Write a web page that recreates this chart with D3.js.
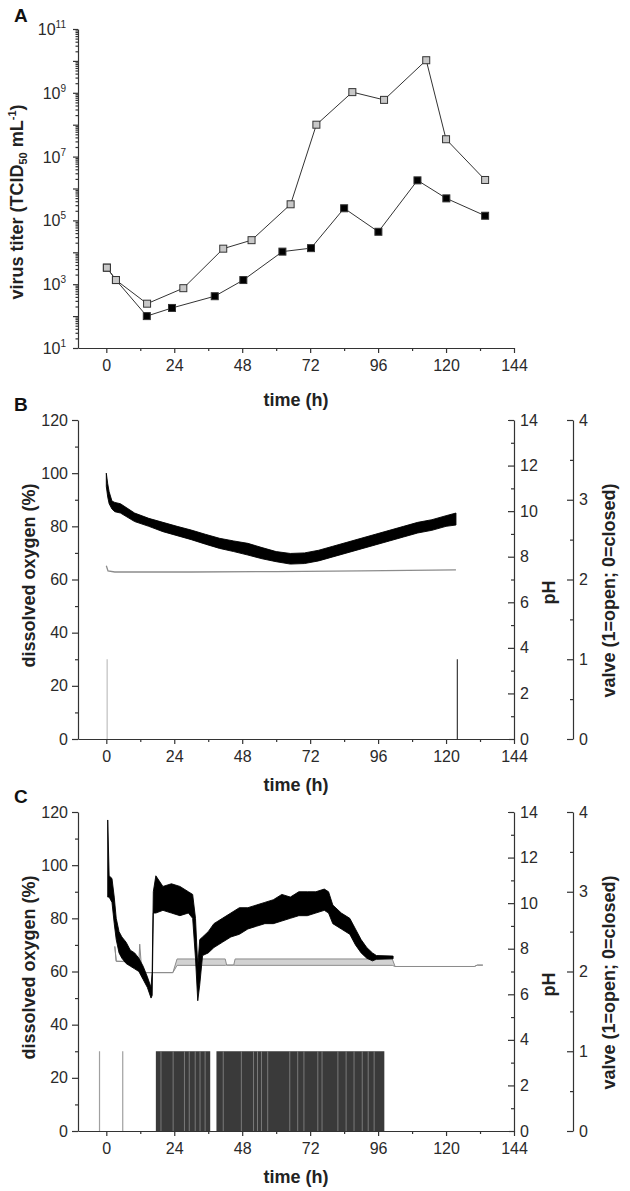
<!DOCTYPE html>
<html>
<head>
<meta charset="utf-8">
<script src="https://cdn.jsdelivr.net/npm/d3@7"></script>
<style>
  body { margin: 0; background: #fff; }
  svg { display: block; font-family: "Liberation Sans", Arial, sans-serif; }
  .axis path, .axis line { stroke: #333; stroke-width: 1.2; }
  .axis text { font-family: "Liberation Sans", Arial, sans-serif; font-size: 16px; fill: #2a2a2a; }
  .title { font-size: 18px; font-weight: bold; fill: #222; }
  .panel { font-size: 19px; font-weight: bold; fill: #111; }
</style>
</head>
<body>
<svg id="chart" width="630" height="1191"></svg>
<script>
// ---- data ----
var timeTicks = [0, 24, 48, 72, 96, 120, 144]
var timeMinorTicks = [12, 36, 60, 84, 108, 132]
var titerLabelExps = [1, 3, 5, 7, 9, 11]
var doTicks = [0, 20, 40, 60, 80, 100, 120]
var doMinorTicks = [10, 30, 50, 70, 90, 110]
var phTicks = [0, 2, 4, 6, 8, 10, 12, 14]
var phMinorTicks = [1, 3, 5, 7, 9, 11, 13]
var valveTicks = [0, 1, 2, 3, 4]
var valveMinorTicks = [0.5, 1.5, 2.5, 3.5]

// A: virus titer (TCID50/mL)
var timeGray = [0.2, 3.4, 14.4, 27.2, 41.3, 51.3, 65.1, 74.2, 86.9, 98.1, 113, 120, 133.8]
var titerGray = [3300, 1350, 245, 750, 13000, 24000, 3.2e5, 1.0e8, 1.05e9, 6.0e8, 1.05e10, 3.5e7, 1.85e6]
var timeBlack = [0.2, 3.4, 14.3, 23.2, 38.3, 48.4, 62.2, 72.3, 84, 96.1, 109.9, 120.1, 133.8]
var titerBlack = [3300, 1350, 100, 180, 420, 1350, 10500, 13500, 2.4e5, 44000, 1.8e6, 4.9e5, 1.4e5]

// B: dissolved oxygen envelope (low/high of noisy trace), pH, valve events
var doTimeB = [0, 0.5, 1, 2, 3, 5, 10, 15, 20, 25, 30, 35, 40, 45, 50, 55, 60, 65, 70, 75, 80, 85, 90, 95, 100, 105, 110, 115, 120, 123.5]
var doLowB = [95, 91, 88.5, 86.5, 85.5, 85, 81.8, 80, 78, 76.5, 75, 73.3, 71.7, 70.5, 69.2, 67.8, 66.7, 65.8, 66, 67, 68.5, 70, 71.5, 73, 74.5, 76, 77.5, 78.5, 80, 80.5]
var doHighB = [100, 96, 93, 89.5, 89, 88.5, 85, 83, 81.5, 80, 78.6, 77, 75.5, 74.5, 73.6, 72, 70.5, 69.8, 70, 71, 72.5, 74, 75.5, 77, 78.5, 80, 81.5, 82.5, 84, 85]
var phTimeB = [0, 0.6, 3, 30, 60, 90, 123.5]
var phB = [7.6, 7.38, 7.33, 7.33, 7.35, 7.38, 7.42]
var valveTimeB = [0.3, 124]

// C: dissolved oxygen envelope, pH envelope, valve openings
var doTimeC = [0.5, 1, 2, 2.8, 3.5, 4.5, 5.5, 7, 8.5, 10, 11.5, 13, 14.5, 15.8, 16.2, 16.6, 17.5, 20, 23, 26, 29, 30.5, 31.5, 32.3, 33, 34, 36, 38, 41, 44, 47, 50, 53, 56, 59, 62, 65, 68, 71, 74, 77, 78.5, 80, 83, 86, 88, 90, 92, 94, 95.4, 101.3]
var doLowC = [88, 88, 86, 78, 72, 67, 65, 63, 62, 61, 60, 57, 54, 50, 51, 82, 82, 83, 82, 81, 82, 80, 65, 49, 55, 66, 67, 69, 71, 73, 74, 76, 77, 78, 78, 79, 80, 81, 81, 82, 83, 82, 78, 76, 74, 70, 67, 65, 64, 64.6, 64.8]
var doHighC = [117, 96, 95, 88, 80, 75, 73, 71, 68, 67, 65, 62, 58, 54, 60, 90, 96, 92, 93, 92, 90, 89, 80, 62, 72, 73, 75, 78, 80, 82, 84, 84, 85, 86, 87, 89, 88, 90, 90, 90, 91, 90, 85, 82, 80, 76, 72, 69, 67, 66, 65.8]
var phTimeC = [3, 3.5, 11.5, 11.8, 12.3, 13, 23.5, 25, 42, 42.5, 45, 45.5, 101, 102, 130, 131, 133]
var phLowC = [8.1, 7.45, 7.4, 7.4, 7.2, 6.95, 6.95, 7.27, 7.27, 7.28, 7.28, 7.27, 7.27, 7.22, 7.22, 7.28, 7.28]
var phHighC = [8.1, 7.45, 7.45, 8.2, 7.4, 6.95, 6.95, 7.55, 7.55, 7.28, 7.28, 7.55, 7.55, 7.22, 7.22, 7.28, 7.28]
var valveLinesC = [-2.4, 5.8]
var valveOpenStartC = [17.5, 38.9]
var valveOpenEndC = [36.7, 98.2]
var valveGapsC = [19.3, 23.6, 27.6, 29.3, 31.4, 33.1, 34.9, 41.3, 47.7, 52, 53.4, 54.8, 57, 64.8, 67.6, 69.8, 74.7, 76.2, 81.8, 84.7, 87.5, 90.4, 92.5, 94.6]

// ---- drawing ----
var svg = d3.select('#chart')
var x = d3.scaleLinear().domain([-10, 144]).range([78, 514])
var zip3 = function(t, a, b) { return t.map(function(v, i) { return [v, a[i], b[i]] }) }

function drawTimeAxis(y0, titleY) {
  svg.append('g').attr('class', 'axis').attr('transform', 'translate(0,' + y0 + ')')
    .call(d3.axisBottom(x).tickValues(timeTicks).tickSize(5).tickSizeOuter(0).tickPadding(7))
  svg.append('g').attr('class', 'axis').attr('transform', 'translate(0,' + y0 + ')')
    .call(d3.axisBottom(x).tickValues(timeMinorTicks).tickSize(3).tickFormat(''))
    .select('.domain').remove()
  svg.append('text').attr('class', 'title')
    .attr('x', 296).attr('y', titleY).attr('text-anchor', 'middle')
    .text('time (h)')
}

function drawSideAxis(scale, xPos, major, minor, right) {
  var mk = right ? d3.axisRight : d3.axisLeft
  var k = right ? -1 : 1
  svg.append('g').attr('class', 'axis').attr('transform', 'translate(' + xPos + ',0)')
    .call(mk(scale).tickValues(major).tickSize(6 * k).tickSizeOuter(0)
      .tickPadding(right ? 6 : 4).tickFormat(d3.format('d')))
  svg.append('g').attr('class', 'axis').attr('transform', 'translate(' + xPos + ',0)')
    .call(mk(scale).tickValues(minor).tickSize(3 * k).tickFormat(''))
    .select('.domain').remove()
}

function rotTitle(txt, tx, ty) {
  return svg.append('text').attr('class', 'title')
    .attr('transform', 'translate(' + tx + ',' + ty + ') rotate(-90)')
    .attr('text-anchor', 'middle')
    .text(txt)
}

// ===== Panel A =====
var yA = d3.scaleLog().domain([10, 1e11]).range([348, 29])
var decades = d3.range(1, 12).map(function(e) { return Math.pow(10, e) })
var minorLog = []
decades.slice(0, -1).forEach(function(d) { for (var m = 2; m <= 9; m++) minorLog.push(d * m) })

svg.append('g').attr('class', 'axis').attr('transform', 'translate(78,0)')
  .call(d3.axisLeft(yA).tickValues(decades).tickSize(5).tickSizeOuter(0).tickFormat(''))
svg.append('g').attr('class', 'axis').attr('transform', 'translate(78,0)')
  .call(d3.axisLeft(yA).tickValues(minorLog).tickSize(2.5).tickFormat(''))
  .select('.domain').remove()

titerLabelExps.forEach(function(e) {
  var t = svg.append('text')
    .attr('x', 66).attr('y', yA(Math.pow(10, e)) + 6)
    .attr('text-anchor', 'end')
    .style('font-size', '16px').style('fill', '#2a2a2a')
  t.append('tspan').text('10')
  t.append('tspan').attr('dy', -7).style('font-size', '10px').text(e)
})

drawTimeAxis(348, 406)

var lineA = d3.line().x(function(d) { return x(d[0]) }).y(function(d) { return yA(d[1]) })
var blackPts = timeBlack.map(function(t, i) { return [t, titerBlack[i]] })
var grayPts = timeGray.map(function(t, i) { return [t, titerGray[i]] })

;[[blackPts, '#000'], [grayPts, '#c8c8c8']].forEach(function(s) {
  var g = svg.append('g')
  g.append('path').attr('d', lineA(s[0])).attr('fill', 'none').attr('stroke', '#333').attr('stroke-width', 1)
  g.selectAll('rect').data(s[0]).enter().append('rect')
    .attr('x', function(d) { return x(d[0]) - 3.5 })
    .attr('y', function(d) { return yA(d[1]) - 3.5 })
    .attr('width', 7).attr('height', 7)
    .attr('fill', s[1]).attr('stroke', '#333').attr('stroke-width', 1)
})

var tA = svg.append('text').attr('class', 'title')
  .attr('transform', 'translate(23,202) rotate(-90)').attr('text-anchor', 'middle')
tA.append('tspan').text('virus titer (TCID')
tA.append('tspan').attr('dy', 4).style('font-size', '11px').text('50')
tA.append('tspan').attr('dy', -4).text(' mL')
tA.append('tspan').attr('dy', -7).style('font-size', '11px').text('-1')
tA.append('tspan').attr('dy', 7).text(')')

svg.append('text').attr('class', 'panel').attr('x', 14).attr('y', 22).text('A')

// ===== Panels B and C =====
function drawProcessPanel(top, bottom, label, doData, phDraw, valveDraw) {
  var yDo = d3.scaleLinear().domain([0, 120]).range([bottom, top])
  var yPh = d3.scaleLinear().domain([0, 14]).range([bottom, top])
  var yV = d3.scaleLinear().domain([0, 4]).range([bottom, top])

  valveDraw(yV)
  phDraw(yPh)

  svg.append('path')
    .attr('d', d3.area().x(function(d) { return x(d[0]) })
      .y0(function(d) { return yDo(d[1]) }).y1(function(d) { return yDo(d[2]) })(doData))
    .attr('fill', '#000').attr('stroke', '#000').attr('stroke-width', 0.9)

  drawSideAxis(yDo, 78, doTicks, doMinorTicks, false)
  drawSideAxis(yPh, 514, phTicks, phMinorTicks, true)
  drawSideAxis(yV, 573, valveTicks, valveMinorTicks, true)
  drawTimeAxis(bottom, bottom + 52)

  var mid = (top + bottom) / 2
  rotTitle('dissolved oxygen (%)', 35, mid - 4)
  rotTitle('pH', 555, mid + 13)
  rotTitle('valve (1=open; 0=closed)', 615, mid + 11)
  svg.append('text').attr('class', 'panel').attr('x', 14).attr('y', top - 9).text(label)
}

// Panel B
drawProcessPanel(420, 739, 'B', zip3(doTimeB, doLowB, doHighB),
  function(yPh) {
    var pts = phTimeB.map(function(t, i) { return [t, phB[i]] })
    svg.append('path')
      .attr('d', d3.line().x(function(d) { return x(d[0]) }).y(function(d) { return yPh(d[1]) })(pts))
      .attr('fill', 'none').attr('stroke', '#8c8c8c').attr('stroke-width', 1.3)
  },
  function(yV) {
    svg.selectAll('line.valveB').data(valveTimeB).enter().append('line')
      .attr('class', 'valveB')
      .attr('x1', function(d) { return x(d) }).attr('x2', function(d) { return x(d) })
      .attr('y1', yV(0)).attr('y2', yV(1))
      .attr('stroke', function(d, i) { return i === 0 ? '#c4c4c4' : '#444' })
      .attr('stroke-width', 1.3)
  })

// Panel C
drawProcessPanel(812, 1131, 'C', zip3(doTimeC, doLowC, doHighC),
  function(yPh) {
    svg.append('path')
      .attr('d', d3.area().x(function(d) { return x(d[0]) })
        .y0(function(d) { return yPh(d[1]) }).y1(function(d) { return yPh(d[2]) })(zip3(phTimeC, phLowC, phHighC)))
      .attr('fill', '#d2d2d2').attr('stroke', '#8c8c8c').attr('stroke-width', 1)
  },
  function(yV) {
    svg.selectAll('line.valveC').data(valveLinesC).enter().append('line')
      .attr('class', 'valveC')
      .attr('x1', function(d) { return x(d) }).attr('x2', function(d) { return x(d) })
      .attr('y1', yV(0)).attr('y2', yV(1))
      .attr('stroke', '#a0a0a0').attr('stroke-width', 1.2)
    svg.selectAll('rect.valveOpen').data(valveOpenStartC).enter().append('rect')
      .attr('class', 'valveOpen')
      .attr('x', function(d) { return x(d) })
      .attr('width', function(d, i) { return x(valveOpenEndC[i]) - x(d) })
      .attr('y', yV(1)).attr('height', yV(0) - yV(1))
      .attr('fill', '#3a3a3a')
    svg.selectAll('line.valveGap').data(valveGapsC).enter().append('line')
      .attr('class', 'valveGap')
      .attr('x1', function(d) { return x(d) }).attr('x2', function(d) { return x(d) })
      .attr('y1', yV(0)).attr('y2', yV(1))
      .attr('stroke', '#8a8a8a').attr('stroke-width', 0.8)
  })
</script>
</body>
</html>
